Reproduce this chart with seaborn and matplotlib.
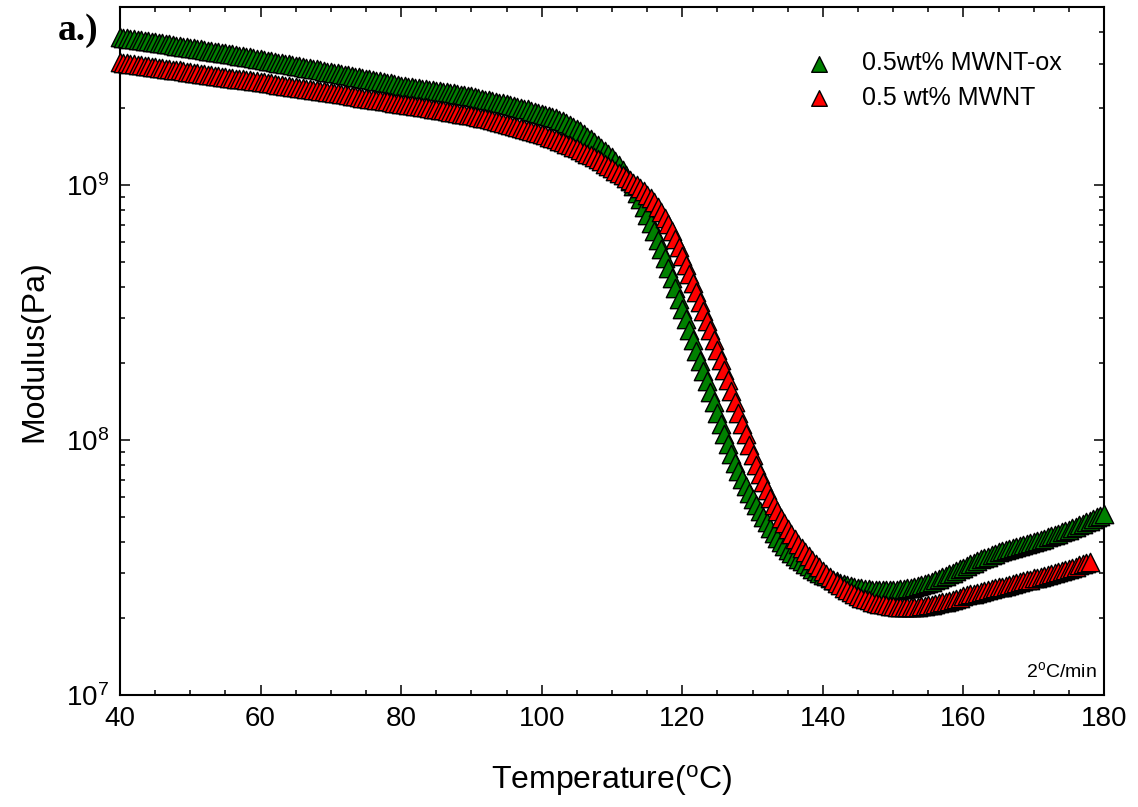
import numpy as np
import matplotlib
matplotlib.use("Agg")
import matplotlib.pyplot as plt
import matplotlib.ticker as mticker
import seaborn as sns

# measurement grid, deg C (both runs share it; the MWNT run stops at 178)
temp_c = [40.0, 40.5, 41.0, 41.5, 42.0, 42.5, 43.0, 43.5, 44.0, 44.5,
          45.0, 45.5, 46.0, 46.5, 47.0, 47.5, 48.0, 48.5, 49.0, 49.5,
          50.0, 50.5, 51.0, 51.5, 52.0, 52.5, 53.0, 53.5, 54.0, 54.5,
          55.0, 55.5, 56.0, 56.5, 57.0, 57.5, 58.0, 58.5, 59.0, 59.5,
          60.0, 60.5, 61.0, 61.5, 62.0, 62.5, 63.0, 63.5, 64.0, 64.5,
          65.0, 65.5, 66.0, 66.5, 67.0, 67.5, 68.0, 68.5, 69.0, 69.5,
          70.0, 70.5, 71.0, 71.5, 72.0, 72.5, 73.0, 73.5, 74.0, 74.5,
          75.0, 75.5, 76.0, 76.5, 77.0, 77.5, 78.0, 78.5, 79.0, 79.5,
          80.0, 80.5, 81.0, 81.5, 82.0, 82.5, 83.0, 83.5, 84.0, 84.5,
          85.0, 85.5, 86.0, 86.5, 87.0, 87.5, 88.0, 88.5, 89.0, 89.5,
          90.0, 90.5, 91.0, 91.5, 92.0, 92.5, 93.0, 93.5, 94.0, 94.5,
          95.0, 95.5, 96.0, 96.5, 97.0, 97.5, 98.0, 98.5, 99.0, 99.5,
          100.0, 100.5, 101.0, 101.5, 102.0, 102.5, 103.0, 103.5, 104.0, 104.5,
          105.0, 105.5, 106.0, 106.5, 107.0, 107.5, 108.0, 108.5, 109.0, 109.5,
          110.0, 110.5, 111.0, 111.5, 112.0, 112.5, 113.0, 113.5, 114.0, 114.5,
          115.0, 115.5, 116.0, 116.5, 117.0, 117.5, 118.0, 118.5, 119.0, 119.5,
          120.0, 120.5, 121.0, 121.5, 122.0, 122.5, 123.0, 123.5, 124.0, 124.5,
          125.0, 125.5, 126.0, 126.5, 127.0, 127.5, 128.0, 128.5, 129.0, 129.5,
          130.0, 130.5, 131.0, 131.5, 132.0, 132.5, 133.0, 133.5, 134.0, 134.5,
          135.0, 135.5, 136.0, 136.5, 137.0, 137.5, 138.0, 138.5, 139.0, 139.5,
          140.0, 140.5, 141.0, 141.5, 142.0, 142.5, 143.0, 143.5, 144.0, 144.5,
          145.0, 145.5, 146.0, 146.5, 147.0, 147.5, 148.0, 148.5, 149.0, 149.5,
          150.0, 150.5, 151.0, 151.5, 152.0, 152.5, 153.0, 153.5, 154.0, 154.5,
          155.0, 155.5, 156.0, 156.5, 157.0, 157.5, 158.0, 158.5, 159.0, 159.5,
          160.0, 160.5, 161.0, 161.5, 162.0, 162.5, 163.0, 163.5, 164.0, 164.5,
          165.0, 165.5, 166.0, 166.5, 167.0, 167.5, 168.0, 168.5, 169.0, 169.5,
          170.0, 170.5, 171.0, 171.5, 172.0, 172.5, 173.0, 173.5, 174.0, 174.5,
          175.0, 175.5, 176.0, 176.5, 177.0, 177.5, 178.0, 178.5, 179.0, 179.5,
          180.0]

# log10 of modulus (Pa)
logmod_ox = [9.580, 9.578, 9.576, 9.574, 9.572, 9.570, 9.568, 9.566, 9.564, 9.562,
             9.560, 9.558, 9.556, 9.554, 9.552, 9.550, 9.548, 9.546, 9.544, 9.542,
             9.540, 9.537, 9.535, 9.533, 9.531, 9.528, 9.526, 9.524, 9.522, 9.519,
             9.517, 9.515, 9.513, 9.510, 9.508, 9.505, 9.503, 9.501, 9.499, 9.496,
             9.494, 9.491, 9.489, 9.486, 9.484, 9.481, 9.479, 9.476, 9.474, 9.471,
             9.469, 9.466, 9.464, 9.461, 9.459, 9.456, 9.454, 9.451, 9.449, 9.446,
             9.444, 9.441, 9.439, 9.436, 9.434, 9.431, 9.429, 9.426, 9.423, 9.420,
             9.418, 9.415, 9.413, 9.410, 9.407, 9.404, 9.402, 9.399, 9.396, 9.393,
             9.391, 9.389, 9.387, 9.385, 9.383, 9.381, 9.379, 9.377, 9.375, 9.373,
             9.371, 9.369, 9.367, 9.365, 9.363, 9.360, 9.358, 9.355, 9.353, 9.350,
             9.348, 9.345, 9.342, 9.339, 9.336, 9.333, 9.330, 9.327, 9.324, 9.321,
             9.318, 9.314, 9.311, 9.307, 9.304, 9.300, 9.297, 9.293, 9.289, 9.285,
             9.281, 9.277, 9.273, 9.268, 9.263, 9.257, 9.251, 9.244, 9.237, 9.229,
             9.220, 9.211, 9.201, 9.191, 9.180, 9.169, 9.158, 9.147, 9.135, 9.123,
             9.110, 9.096, 9.080, 9.061, 9.040, 9.018, 8.995, 8.971, 8.945, 8.916,
             8.885, 8.853, 8.820, 8.786, 8.750, 8.713, 8.675, 8.635, 8.595, 8.555,
             8.515, 8.474, 8.432, 8.391, 8.350, 8.310, 8.270, 8.230, 8.190, 8.148,
             8.105, 8.063, 8.022, 7.983, 7.945, 7.911, 7.878, 7.848, 7.820, 7.794,
             7.768, 7.745, 7.722, 7.700, 7.678, 7.656, 7.635, 7.617, 7.600, 7.585,
             7.570, 7.557, 7.545, 7.535, 7.525, 7.515, 7.505, 7.496, 7.488, 7.480,
             7.472, 7.465, 7.458, 7.452, 7.446, 7.441, 7.436, 7.432, 7.428, 7.424,
             7.421, 7.418, 7.416, 7.414, 7.412, 7.411, 7.410, 7.410, 7.410, 7.410,
             7.411, 7.412, 7.414, 7.416, 7.418, 7.421, 7.424, 7.427, 7.431, 7.435,
             7.440, 7.445, 7.451, 7.456, 7.462, 7.468, 7.474, 7.480, 7.487, 7.493,
             7.500, 7.506, 7.513, 7.519, 7.526, 7.532, 7.538, 7.543, 7.549, 7.554,
             7.559, 7.563, 7.568, 7.572, 7.577, 7.581, 7.585, 7.589, 7.593, 7.597,
             7.601, 7.605, 7.609, 7.613, 7.618, 7.623, 7.628, 7.633, 7.638, 7.643,
             7.649, 7.654, 7.660, 7.666, 7.672, 7.678, 7.684, 7.690, 7.697, 7.703,
             7.710]

logmod_mwnt = [9.482, 9.480, 9.478, 9.476, 9.474, 9.472, 9.471, 9.469, 9.467, 9.465,
               9.463, 9.461, 9.459, 9.457, 9.455, 9.453, 9.452, 9.450, 9.448, 9.446,
               9.444, 9.442, 9.440, 9.438, 9.436, 9.434, 9.432, 9.430, 9.428, 9.426,
               9.424, 9.422, 9.420, 9.418, 9.417, 9.415, 9.413, 9.411, 9.409, 9.407,
               9.405, 9.403, 9.401, 9.399, 9.397, 9.395, 9.393, 9.391, 9.389, 9.387,
               9.385, 9.383, 9.381, 9.378, 9.376, 9.374, 9.372, 9.370, 9.368, 9.366,
               9.364, 9.362, 9.360, 9.358, 9.356, 9.353, 9.351, 9.349, 9.347, 9.344,
               9.342, 9.340, 9.338, 9.335, 9.333, 9.331, 9.329, 9.326, 9.324, 9.322,
               9.320, 9.318, 9.316, 9.314, 9.312, 9.309, 9.307, 9.305, 9.303, 9.300,
               9.298, 9.296, 9.294, 9.291, 9.289, 9.286, 9.284, 9.281, 9.279, 9.276,
               9.274, 9.271, 9.268, 9.265, 9.262, 9.258, 9.255, 9.252, 9.249, 9.245,
               9.242, 9.238, 9.234, 9.230, 9.226, 9.222, 9.218, 9.213, 9.209, 9.204,
               9.200, 9.195, 9.190, 9.185, 9.180, 9.174, 9.169, 9.163, 9.157, 9.151,
               9.145, 9.138, 9.131, 9.124, 9.117, 9.109, 9.101, 9.093, 9.084, 9.075,
               9.066, 9.057, 9.048, 9.039, 9.030, 9.020, 9.010, 8.999, 8.988, 8.976,
               8.963, 8.949, 8.933, 8.915, 8.895, 8.873, 8.848, 8.820, 8.790, 8.757,
               8.722, 8.686, 8.650, 8.615, 8.580, 8.543, 8.505, 8.468, 8.430, 8.393,
               8.355, 8.315, 8.275, 8.234, 8.192, 8.150, 8.107, 8.064, 8.022, 7.981,
               7.942, 7.904, 7.868, 7.835, 7.803, 7.774, 7.746, 7.720, 7.696, 7.673,
               7.651, 7.630, 7.611, 7.593, 7.576, 7.560, 7.544, 7.529, 7.515, 7.501,
               7.488, 7.475, 7.462, 7.451, 7.440, 7.430, 7.420, 7.411, 7.403, 7.395,
               7.388, 7.382, 7.376, 7.371, 7.366, 7.362, 7.358, 7.355, 7.352, 7.350,
               7.348, 7.347, 7.346, 7.345, 7.345, 7.345, 7.346, 7.347, 7.348, 7.350,
               7.352, 7.354, 7.357, 7.360, 7.363, 7.366, 7.370, 7.374, 7.378, 7.382,
               7.387, 7.391, 7.395, 7.398, 7.402, 7.405, 7.409, 7.412, 7.416, 7.419,
               7.422, 7.425, 7.429, 7.432, 7.436, 7.439, 7.443, 7.446, 7.450, 7.453,
               7.457, 7.460, 7.464, 7.467, 7.471, 7.474, 7.478, 7.482, 7.486, 7.490,
               7.494, 7.498, 7.503, 7.508, 7.513, 7.518, 7.523]

labels = ["0.5wt% MWNT-ox", "0.5 wt% MWNT"]
colors = ["#008000", "#ff0000"]

sns.set_style("ticks")
plt.rcParams["font.family"] = ["Liberation Sans", "DejaVu Sans"]
plt.rcParams["mathtext.fontset"] = "custom"
plt.rcParams["mathtext.rm"] = "Liberation Sans"
plt.rcParams["mathtext.default"] = "regular"
for k in ["text.color", "axes.labelcolor", "xtick.color", "ytick.color", "axes.edgecolor"]:
    plt.rcParams[k] = "black"

fig = plt.figure(figsize=(11.38, 8.07), dpi=100)
ax = fig.add_axes([0.1054, 0.1388, 0.8647, 0.8525])

sns.scatterplot(x=temp_c[:len(logmod_ox)], y=10 ** np.array(logmod_ox), marker="^", s=175,
                color=colors[0], edgecolor="black", linewidth=1.0, label=labels[0],
                clip_on=False, zorder=3, ax=ax)
sns.scatterplot(x=temp_c[:len(logmod_mwnt)], y=10 ** np.array(logmod_mwnt), marker="^", s=175,
                color=colors[1], edgecolor="black", linewidth=1.0, label=labels[1],
                clip_on=False, zorder=4, ax=ax)

ax.set_yscale("log")
ax.set_xlim(40, 180)
ax.set_ylim(1e7, 5e9)
ax.xaxis.set_major_locator(mticker.MultipleLocator(20))
ax.xaxis.set_minor_locator(mticker.MultipleLocator(5))
ax.yaxis.set_major_locator(mticker.FixedLocator([1e7, 1e8, 1e9]))
ax.yaxis.set_minor_locator(mticker.LogLocator(base=10, subs=np.arange(2, 10)))
ax.yaxis.set_minor_formatter(mticker.NullFormatter())
ax.set_yticklabels(["10$^7$", "10$^8$", "10$^9$"])

ax.tick_params(which="both", direction="in", top=True, right=True, width=1.1, labelsize=20, pad=8)
ax.tick_params(which="major", length=7)
ax.tick_params(which="minor", length=3.5)
for sp in ax.spines.values():
    sp.set_linewidth(1.5)

ax.set_xlabel("Temperature($^o$C)", fontsize=23, labelpad=22)
ax.set_ylabel("Modulus(Pa)", fontsize=23, labelpad=12)

ax.legend(loc="upper left", bbox_to_anchor=(0.698, 0.952), bbox_transform=fig.transFigure,
          frameon=False, fontsize=18, borderpad=0, handletextpad=1.2, labelspacing=0.42,
          markerscale=0.85, handlelength=1.0)

ax.text(0.993, 0.02, "2$^o$C/min", transform=ax.transAxes, ha="right", va="bottom", fontsize=14)
fig.text(0.051, 0.950, "a.)", fontsize=27, fontweight="bold", family="Liberation Serif",
         va="baseline")

fig.savefig("out.png", dpi=100)
